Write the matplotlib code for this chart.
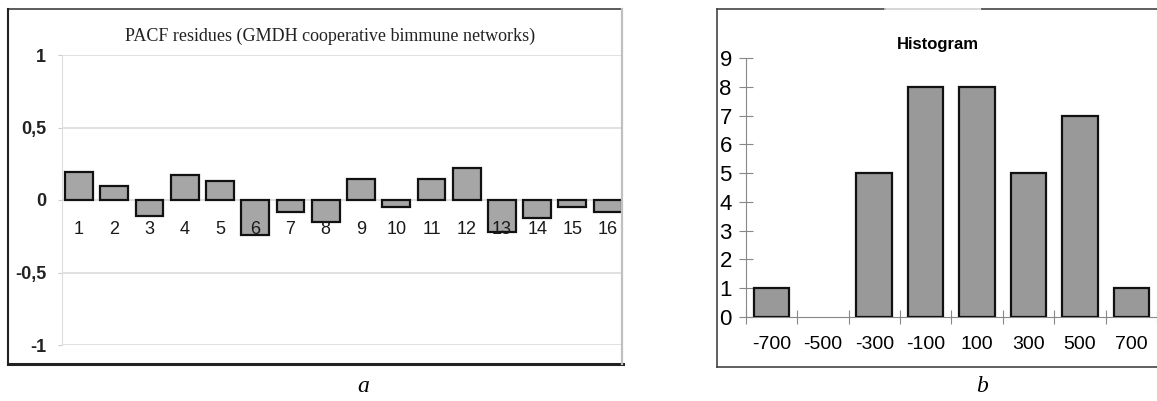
import matplotlib
matplotlib.use("Agg")
import matplotlib.pyplot as plt
from matplotlib.lines import Line2D
import numpy as np

# PACF residues (panel a)
lags = list(range(1, 17))
pacf = [0.19, 0.10, -0.11, 0.17, 0.13, -0.24, -0.085, -0.15,
        0.145, -0.05, 0.145, 0.22, -0.22, -0.125, -0.05, -0.08]
pacf_ticks = [-1, -0.5, 0, 0.5, 1]
pacf_ticklabels = ["-1", "-0,5", "0", "0,5", "1"]

# Histogram (panel b)
bins = ["-700", "-500", "-300", "-100", "100", "300", "500", "700"]
counts = [1, 0, 5, 8, 8, 5, 7, 1]

W, H = 1157, 401
fig = plt.figure(figsize=(W / 100, H / 100), dpi=100)
plt.rcParams['font.family'] = ['Liberation Sans', 'DejaVu Sans']


def box(l, t, r, b):
    # pixel box -> figure fraction rect
    return [l / W, 1 - b / H, (r - l) / W, (b - t) / H]


def hline(y, x0, x1, color, lw):
    fig.add_artist(Line2D([x0 / W, x1 / W], [1 - y / H, 1 - y / H],
                          transform=fig.transFigure, color=color, lw=lw))


def vline(x, y0, y1, color, lw):
    fig.add_artist(Line2D([x / W, x / W], [1 - y0 / H, 1 - y1 / H],
                          transform=fig.transFigure, color=color, lw=lw))


# ---- panel a ----
ax1 = fig.add_axes(box(61.5, 55, 621.7, 345))
for t in pacf_ticks:
    ax1.axhline(t, color="#dcdcdc", lw=1.2, zorder=0)
ax1.bar(lags, pacf, width=0.79, color="#a6a6a6", edgecolor="#111111", lw=1.6, zorder=1)
ax1.set_xlim(0.5, 16.4)
ax1.set_ylim(-1, 1)
ax1.set_yticks(pacf_ticks)
ax1.set_yticklabels(pacf_ticklabels, fontsize=13, fontweight="bold", color="#222222")
ax1.tick_params(axis="y", length=3, color="#cccccc", pad=8)
ax1.spines["bottom"].set_position(("data", 0))
ax1.spines["bottom"].set_visible(False)
ax1.spines["top"].set_visible(False)
ax1.spines["right"].set_visible(False)
ax1.spines["left"].set_color("#dddddd")
ax1.set_xticks(lags)
ax1.set_xticklabels([str(v) for v in lags], fontsize=13, color="#1a1a1a")
ax1.tick_params(axis="x", length=0, pad=15)

fig.text(330 / W, 1 - 36 / H, "PACF residues (GMDH cooperative bimmune networks)",
         ha="center", va="center", fontsize=13, family="Liberation Serif", color="#222222")

# frame a
hline(8.5, 8, 622, "#404040", 1.2)
vline(8.3, 8.5, 364, "#222222", 1.5)
hline(363.5, 7.5, 622.5, "#222222", 2.2)
vline(621.7, 8.5, 364, "#c0c0c0", 1.6)

# ---- panel b ----
ax2 = fig.add_axes(box(745.7, 58.3, 1157, 316.7))
x = np.arange(len(bins))
edges = ["#111111" if c else "none" for c in counts]
ax2.bar(x, counts, width=0.69, color="#999999", edgecolor=edges, lw=1.6, zorder=3)
ax2.set_xlim(-0.5, 7.38)
ax2.set_ylim(0, 9)
ax2.set_yticks(range(10))
ax2.tick_params(axis="y", direction="inout", length=10, color="#888888",
                labelsize=16, pad=5)
ax2.set_xticks(np.arange(len(bins) + 1) - 0.5)
ax2.set_xticklabels([])
ax2.tick_params(axis="x", which="major", direction="inout", length=10, color="#888888")
ax2.set_xticks(x, minor=True)
ax2.set_xticklabels(bins, minor=True, fontsize=14)
ax2.tick_params(axis="x", which="minor", length=0, pad=14)
ax2.spines["top"].set_visible(False)
ax2.spines["right"].set_visible(False)
ax2.spines["left"].set_color("#888888")
ax2.spines["bottom"].set_color("#888888")

fig.text(938 / W, 1 - 45 / H, "Histogram", ha="center", va="center",
         fontsize=12, fontweight="bold")

# frame b
vline(716.7, 9.3, 366.7, "#444444", 1.2)
hline(9.3, 716.7, 885, "#444444", 1.2)
hline(9.3, 885, 982, "#d0d0d0", 1.2)
hline(9.3, 982, 1157, "#444444", 1.2)
hline(366.7, 716.7, 1157, "#444444", 1.2)

# panel letters
fig.text(363 / W, 1 - 387 / H, "a", ha="center", va="center", fontsize=17,
         style="italic", family="Liberation Serif")
fig.text(982 / W, 1 - 386 / H, "b", ha="center", va="center", fontsize=17,
         style="italic", family="Liberation Serif")

fig.savefig("out.png", dpi=100)
